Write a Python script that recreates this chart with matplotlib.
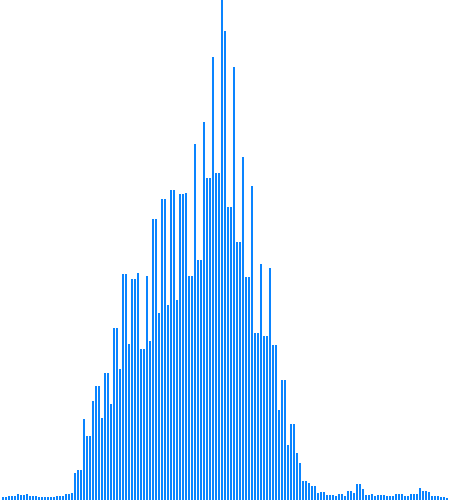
import matplotlib
matplotlib.use("Agg")
import matplotlib.pyplot as plt
import numpy as np

heights = [
    3, 3, 4, 4, 4, 6, 5, 5, 6, 4, 4, 4, 3, 3, 3, 3, 3, 3, 4, 4, 4, 6, 6, 7,
    27, 30, 30, 81, 64, 64, 99, 114, 114, 82, 127, 127, 96, 172, 172, 131,
    226, 226, 156, 221, 221, 227, 151, 151, 224, 159,
    281, 281, 187, 301, 301, 195, 310, 310, 200, 306, 306, 307, 224, 224,
    356, 240, 240, 378, 322, 322, 443, 327, 327,
    500, 469, 293, 293, 433, 258, 258, 343, 223, 223, 314, 167, 167, 236,
    164, 164, 232,
    155, 155, 90, 120, 120, 55, 76, 76, 47, 37, 19, 19, 17, 14, 14, 7, 8, 8,
    5, 5, 5, 4, 6,
    6, 4, 9, 9, 7, 16, 16, 11, 5, 5, 6, 4, 5, 5, 5, 4, 4, 4, 6, 6,
    6, 4, 4, 6, 6, 6, 12, 9, 9, 8, 4, 4, 4, 3, 3, 2,
]
bins = list(range(len(heights)))

fig = plt.figure(figsize=(4.5, 5), dpi=100)
ax = fig.add_axes([0, 0, 1, 1])
ax.bar(bins, heights, width=2/3, color="#0a84ff", linewidth=0)
ax.set_xlim(-1, len(heights))
ax.set_ylim(0, max(heights))
ax.axis("off")
fig.savefig("out.png", dpi=100, facecolor="white")
